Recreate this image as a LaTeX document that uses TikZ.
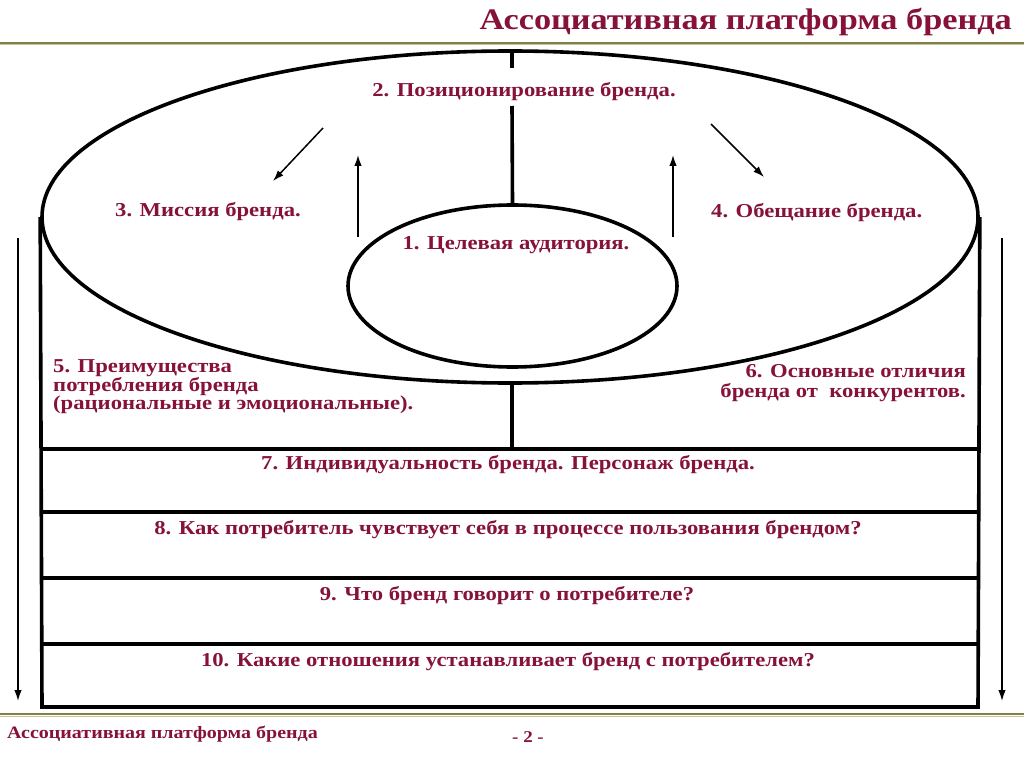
\documentclass[tikz,border=0pt]{standalone}
\usepackage{fontspec}
\setmainfont{Liberation Serif}
\newfontfamily\widefont[FakeStretch=1.15]{Liberation Serif}
\usetikzlibrary{shapes.geometric,arrows.meta}
\definecolor{maroon}{RGB}{134,18,58}
\definecolor{olive}{RGB}{128,128,72}
\definecolor{olivelight}{RGB}{196,196,150}
\tikzset{
  heavy/.style={line width=3.6pt, black},
  thin arrow/.style={line width=1.5pt, -{Latex[length=11pt,width=7.5pt]}},
  label/.style={font=\widefont\bfseries\fontsize{19.7}{18.5}\selectfont, text=maroon, inner sep=0pt},
  rowtext/.style={label, anchor=base},
}
\begin{document}
\begin{tikzpicture}[x=1pt,y=-1pt]
\useasboundingbox[fill=white] (0,0) rectangle (1024,767);
% header / footer rules
\draw[olive, line width=2pt] (0,43) -- (1024,43);
\draw[olivelight, line width=1pt] (0,45) -- (1024,45);
\draw[olive, line width=2pt] (0,714) -- (1024,714);
\draw[olivelight, line width=1pt] (0,716) -- (1024,716);
\node[font=\widefont\bfseries\fontsize{29.8}{30}\selectfont, text=maroon, anchor=base east, inner sep=0pt] (title) at (1012,30) {Ассоциативная платформа бренда};
\node[font=\widefont\bfseries\fontsize{17.4}{18}\selectfont, text=maroon, anchor=base west, inner sep=0pt] (foot) at (7,738) {Ассоциативная платформа бренда};
\node[font=\widefont\bfseries\fontsize{16.5}{17}\selectfont, text=maroon, anchor=base, inner sep=0pt] (page) at (528,742) {- 2 -};
% cylinder
\node[ellipse, heavy, draw, minimum width=936pt, minimum height=332pt, inner sep=0pt] (outer) at (510,217) {};
\node[ellipse, heavy, draw, minimum width=329pt, minimum height=162pt, inner sep=0pt] (inner) at (512.5,286) {};
\coordinate (lt) at (42,707);
\coordinate (rt) at (978,707);
\draw[heavy] (outer.west) -- (lt) -- (rt) -- (outer.east);
\coordinate (r7l) at (42,449); \coordinate (r7r) at (978,449);
\coordinate (r8l) at (42,512); \coordinate (r8r) at (978,512);
\coordinate (r9l) at (42,578); \coordinate (r9r) at (978,578);
\coordinate (r10l) at (42,644); \coordinate (r10r) at (978,644);
\draw[heavy] (r7l) -- (r7r) (r8l) -- (r8r) (r9l) -- (r9r) (r10l) -- (r10r);
% centre lines
\coordinate (c1) at (512,68);
\coordinate (c2) at (512,106);
\coordinate (c3) at (512,449);
\coordinate (c0) at (512,51);
\coordinate (c4) at (512,383);
\draw[heavy] (c0) -- (c1);
\draw[heavy] (c2) -- (inner.north);
\draw[heavy] (c4) -- (c3);
% arrows
\coordinate (a1s) at (323,128); \coordinate (a1e) at (273,181);
\coordinate (a2s) at (358,237); \coordinate (a2e) at (358,155);
\coordinate (a3s) at (673,237); \coordinate (a3e) at (673,155);
\coordinate (a4s) at (711,124); \coordinate (a4e) at (764,177);
\coordinate (a5s) at (18,238); \coordinate (a5e) at (18,701);
\coordinate (a6s) at (1002,238); \coordinate (a6e) at (1002,701);
\draw[thin arrow] (a1s) -- (a1e);
\draw[thin arrow] (a2s) -- (a2e);
\draw[thin arrow] (a3s) -- (a3e);
\draw[thin arrow] (a4s) -- (a4e);
\draw[thin arrow] (a5s) -- (a5e);
\draw[thin arrow] (a6s) -- (a6e);
% labels
\node[rowtext] (t2) at (524,97) {2. Позиционирование бренда.};
\node[label, anchor=base west] (t3) at (115,217) {3. Миссия бренда.};
\node[label, anchor=base west] (t4) at (711,218) {4. Обещание бренда.};
\node[rowtext] (t1) at (516,249) {1. Целевая аудитория.};
\node[label, anchor=base west] (t5a) at (53,372) {5. Преимущества};
\node[label, anchor=base west] (t5b) at (53,391) {потребления бренда};
\node[label, anchor=base west] (t5c) at (53,409) {(рациональные и эмоциональные).};
\node[label, anchor=base east] (t6a) at (966,377) {6. Основные отличия};
\node[label, anchor=base east] (t6b) at (966,397) {бренда от\ \ конкурентов.};
\node[rowtext] (t7) at (508,469) {7. Индивидуальность бренда. Персонаж бренда.};
\node[rowtext] (t8) at (508,534) {8. Как потребитель чувствует себя в процессе пользования брендом?};
\node[rowtext] (t9) at (507,600) {9. Что бренд говорит о потребителе?};
\node[rowtext] (t10) at (508,666) {10. Какие отношения устанавливает бренд с потребителем?};
\end{tikzpicture}
\end{document}
